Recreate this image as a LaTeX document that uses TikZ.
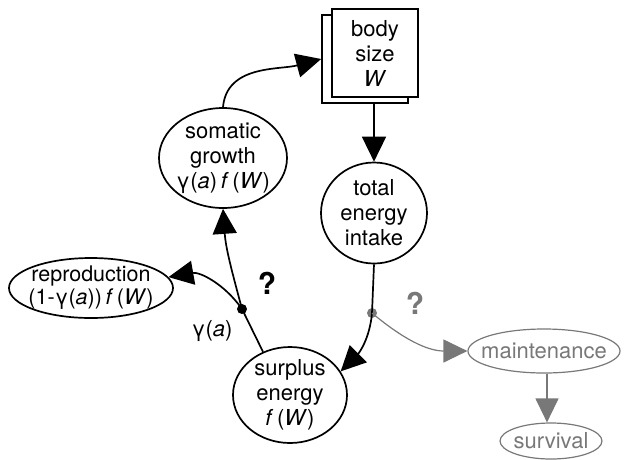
\documentclass[tikz,border=0pt]{standalone}
\usepackage{fontspec}
\setmainfont{TeX Gyre Heros}
\usetikzlibrary{shapes.geometric, arrows.meta}
\definecolor{gcol}{gray}{0.47}
\begin{document}
\begin{tikzpicture}[x=1pt,y=1pt,
  txt/.style={font=\fontsize{22}{25}\selectfont, align=center},
  ell/.style={ellipse, draw, line width=1.7pt, inner sep=-15pt, txt},
  arr/.style={line width=1.7pt, -{Triangle[length=25pt,width=24pt]}},
  ln/.style={line width=1.7pt},
  gell/.style={ellipse, draw=gcol, text=gcol, line width=1.2pt, inner sep=-15pt, txt},
  garr/.style={draw=gcol, line width=1.2pt, -{Triangle[length=24pt,width=23pt]}},
  dotnode/.style={circle, fill, inner sep=0pt, minimum size=10pt},
  qm/.style={font=\fontsize{30}{30}\selectfont\bfseries},
  box/.style={draw, line width=1.7pt, minimum width=86pt, minimum height=88pt, inner sep=0pt, fill=white, txt}
]
\useasboundingbox (0,0) rectangle (624,-459);
\node[box] (bback) at (365,-59) {};
\node[box] (body) at (375,-53) {body\\size\\\textit{W}};
\node[ell, minimum width=128pt, minimum height=100pt] (som) at (223,-158) {somatic\\growth\\γ(\textit{a})\,\textit{f}\,(\textit{W})};
\node[ell, minimum width=106pt, minimum height=101pt] (tei) at (374,-213) {total\\energy\\intake};
\node[ell, minimum width=164pt, minimum height=60pt, font=\fontsize{21.5}{23}\selectfont] (rep) at (91,-288) {reproduction\\(1-γ(\textit{a}))\,\textit{f}\,(\textit{W})};
\node[ell, minimum width=114pt, minimum height=96pt] (sur) at (290,-395) {surplus\\energy\\\textit{f}\,(\textit{W})};
\node[gell, minimum width=152pt, minimum height=44pt] (mai) at (544,-351) {maintenance};
\node[gell, minimum width=102pt, minimum height=36pt] (srv) at (551,-441) {survival};
\node[dotnode] (jd) at (242,-309) {};
\node[dotnode, fill=gcol] (gd) at (372,-313) {};
\node[qm] (q1) at (267,-283) {?};
\node[qm, text=gcol] (q2) at (415,-303) {?};
\node[txt] (ga) at (212,-331) {γ(\textit{a})};
\draw[arr] (som.north) to[out=85,in=195] (bback.west);
\draw[arr] (bback.south -| tei.north) -- (tei.north);
\draw[ln] (tei.south) -- (gd.center);
\draw[arr] (gd.center) to[out=-95,in=45] (sur.25);
\draw[ln] (sur.122) -- (jd.center);
\draw[arr] (jd.center) to[out=105,in=-86] (som.south);
\draw[arr] (jd.center) to[out=125,in=10] (rep.8);
\draw[garr] (gd.center) to[out=-40,in=180] (mai.west);
\draw[garr] (mai.south -| 547,0) -- (srv.north -| 547,0);
\end{tikzpicture}
\end{document}
